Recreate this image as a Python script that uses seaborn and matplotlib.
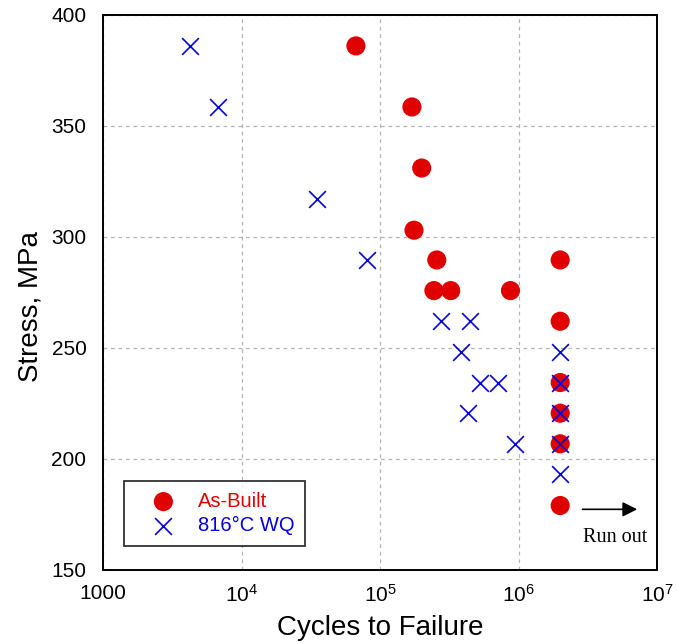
import matplotlib
matplotlib.use("Agg")
import matplotlib.pyplot as plt
import seaborn as sns
import pandas as pd
from matplotlib.ticker import FixedLocator, FixedFormatter, NullLocator

# Data
asbuilt_cycles = [67000, 170000, 200000, 176000, 257000, 245000, 324000, 875000,
                  2e6, 2e6, 2e6, 2e6, 2e6, 2e6]
asbuilt_stress = [386, 358.5, 331, 303, 289.6, 275.8, 275.8, 275.8,
                  289.6, 262, 234.4, 220.6, 206.8, 179]
wq_cycles = [4230, 6800, 35000, 80500, 275000, 443000, 383000, 526000, 707000,
             432000, 950000, 2e6, 2e6, 2e6, 2e6, 2e6]
wq_stress = [386, 358.5, 317.2, 289.6, 262, 262, 248, 234.4, 234.4,
             220.6, 206.8, 248, 234.4, 220.6, 206.8, 193]
series_names = ["As-Built", "816°C WQ"]
x_ticks = [1e3, 1e4, 1e5, 1e6, 1e7]
x_tick_labels = ["1000", r"$\mathregular{10^{4}}$", r"$\mathregular{10^{5}}$",
                 r"$\mathregular{10^{6}}$", r"$\mathregular{10^{7}}$"]
y_ticks = [150, 200, 250, 300, 350, 400]

sns.set_style("white")
plt.rcParams['font.family'] = ['Liberation Sans', 'DejaVu Sans']
plt.rcParams['mathtext.fontset'] = 'custom'
plt.rcParams['mathtext.rm'] = 'Liberation Sans'
plt.rcParams['text.color'] = 'black'
plt.rcParams['axes.labelcolor'] = 'black'
plt.rcParams['xtick.color'] = 'black'
plt.rcParams['ytick.color'] = 'black'

red = "#E00000"
blue = "#0000DD"

df_a = pd.DataFrame({"cycles": asbuilt_cycles, "stress": asbuilt_stress})
df_w = pd.DataFrame({"cycles": wq_cycles, "stress": wq_stress})

fig = plt.figure(figsize=(6.78, 6.44), dpi=100)
ax = fig.add_axes([0.152, 0.115, 0.817, 0.862])

sns.scatterplot(data=df_a, x="cycles", y="stress", ax=ax, color=red, marker="o",
                s=190, edgecolor="none", label=series_names[0], zorder=3)
sns.scatterplot(data=df_w, x="cycles", y="stress", ax=ax, color=blue, marker="x",
                s=145, linewidth=1.2, label=series_names[1], zorder=4)

ax.set_xscale("log")
ax.set_xlim(1e3, 1e7)
ax.set_ylim(150, 400)
ax.xaxis.set_major_locator(FixedLocator(x_ticks))
ax.xaxis.set_major_formatter(FixedFormatter(x_tick_labels))
ax.xaxis.set_minor_locator(NullLocator())
ax.set_yticks(y_ticks)
ax.tick_params(axis="both", labelsize=15, length=0, colors="black")
ax.tick_params(axis="x", pad=10)
ax.tick_params(axis="y", pad=12)
ax.grid(True, which="major", color="#B4B4B4", linestyle=(0, (3, 3)), linewidth=0.9)
for sp in ax.spines.values():
    sp.set_color("black")
    sp.set_linewidth(1.4)

ax.set_xlabel("Cycles to Failure", fontsize=20, labelpad=7, color="black")
ax.set_ylabel("Stress, MPa", fontsize=20, color="black")
ax.yaxis.set_label_coords(-0.108, 0.475)

leg = ax.legend(loc="lower left", bbox_to_anchor=(0.038, 0.043), fontsize=14.5,
                frameon=True, fancybox=False, edgecolor="black", borderpad=0.55,
                handlelength=2.8, handletextpad=0.3, labelspacing=0.25,
                borderaxespad=0)
leg.get_frame().set_linewidth(1.3)
for txt, c in zip(leg.get_texts(), [red, blue]):
    txt.set_color(c)

ax.annotate("", xy=(7.2e6, 177.3), xytext=(2.9e6, 177.3),
            arrowprops=dict(arrowstyle="-|>", color="black", lw=1.2,
                            mutation_scale=22, shrinkA=0, shrinkB=0))
ax.text(4.95e6, 164.5, "Run out", fontsize=14.5, family="Liberation Serif",
        ha="center", va="center", color="black")

fig.savefig("out.png", dpi=100)
